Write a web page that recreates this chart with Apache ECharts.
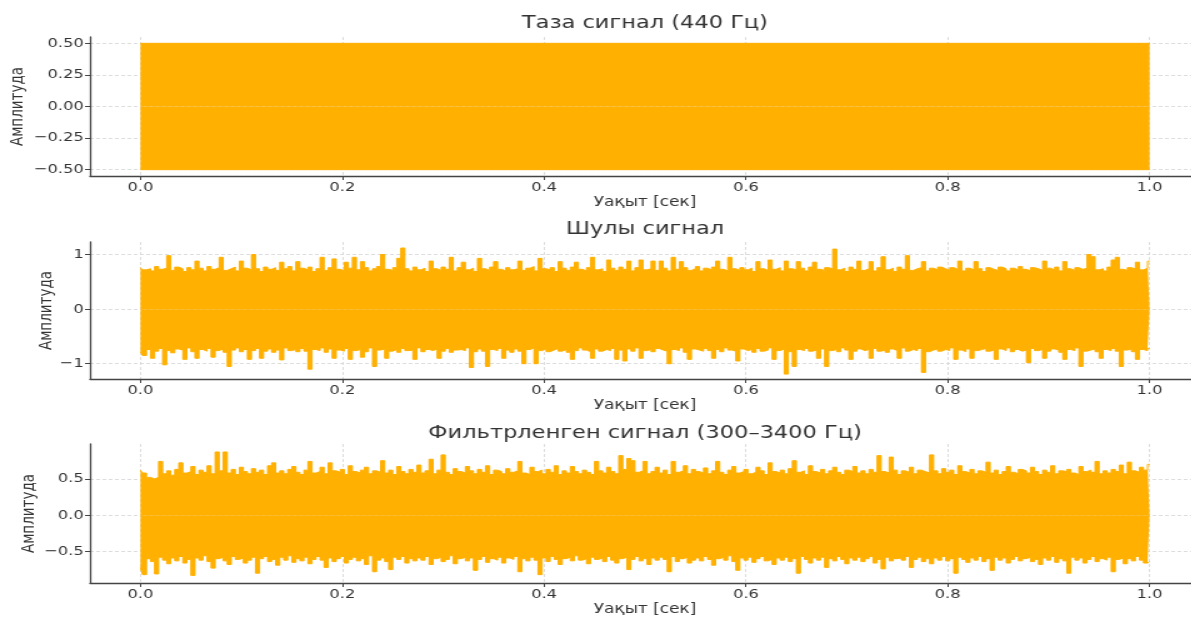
<!DOCTYPE html>
<html>
<head>
<meta charset="utf-8">
<script src="https://cdn.jsdelivr.net/npm/echarts@6/dist/echarts.min.js"></script>
<style>
  html, body { margin: 0; padding: 0; overflow: hidden; background: #fff; }
  /* исходный рисунок растянут по горизонтали примерно в 1.25 раза */
  #chart { width: 960px; height: 617px; transform: scaleX(1.25); transform-origin: 0 0; }
</style>
</head>
<body>
<div id="chart"></div>
<script>
// шаг отсчётов огибающей шумных сигналов, сек
const sampleStep = 0.004;

// подписи
const titles = ['Таза сигнал (440 Гц)', 'Шулы сигнал', 'Фильтрленген сигнал (300–3400 Гц)'];
const xName = 'Уақыт [сек]';
const yName = 'Амплитуда';
const xTicks = [0, 0.2, 0.4, 0.6, 0.8, 1.0];
const yTicks1 = [-0.5, -0.25, 0, 0.25, 0.5];
const yTicks2 = [-1, 0, 1];
const yTicks3 = [-0.5, 0, 0.5];

// таза сигнал: синусоида 440 Гц, огибающая ровная ±0.5 от 0 до 1 с
const cleanTimes = [0, 1.0];
const cleanHigh = [0.5, 0.5];
const cleanLow = [-0.5, -0.5];

// шулы сигнал: верхняя и нижняя огибающие
const noisyHigh = [
  0.76,0.72,0.74,0.70,0.78,0.73,0.75,0.98,0.71,0.77,
  0.74,0.69,0.76,0.72,0.88,0.75,0.70,0.78,0.73,0.76,
  0.95,0.71,0.74,0.77,0.70,0.88,0.75,0.72,1.00,0.74,
  0.69,0.77,0.73,0.76,0.71,0.86,0.74,0.78,0.70,0.87,
  0.75,0.72,0.77,0.69,0.74,0.95,0.71,0.76,0.92,0.73,
  0.70,0.86,0.75,0.95,0.72,0.87,0.76,0.70,0.74,0.78,
  1.00,0.73,0.71,0.76,0.93,1.12,0.74,0.70,0.77,0.72,
  0.75,0.69,0.88,0.74,0.71,0.77,0.73,0.95,0.70,0.76,
  0.86,0.72,0.75,0.69,0.93,0.74,0.71,0.77,0.87,0.73,
  0.70,0.76,0.72,0.74,0.88,0.71,0.75,0.78,0.70,0.93,
  0.74,0.72,0.76,0.69,0.87,0.75,0.71,0.77,0.86,0.73,
  0.70,0.76,0.95,0.72,0.74,0.69,0.90,0.75,0.71,0.77,
  0.73,0.88,0.70,0.76,0.90,0.72,0.74,0.88,0.71,0.88,
  0.75,0.70,0.95,0.73,0.87,0.76,0.71,0.74,0.78,0.70,
  0.75,0.72,0.77,0.88,0.73,0.70,0.95,0.74,0.71,0.76,
  0.72,0.75,0.69,0.87,0.74,0.71,0.90,0.73,0.76,0.70,
  0.88,0.74,0.72,0.87,0.75,0.70,0.77,0.86,0.73,0.71,
  0.76,0.74,1.10,0.72,0.75,0.69,0.77,0.73,0.88,0.71,
  0.74,0.87,0.70,0.76,0.96,0.72,0.75,0.69,0.77,0.73,
  0.98,0.71,0.74,0.76,0.87,0.70,0.75,0.72,0.77,0.74,
  0.71,0.76,0.73,0.88,0.70,0.75,0.72,0.87,0.74,0.69,
  0.76,0.73,0.71,0.77,0.74,0.70,0.75,0.72,0.78,0.73,
  0.70,0.76,0.74,0.71,0.88,0.75,0.72,0.77,0.70,0.87,
  0.74,0.71,0.76,0.73,0.75,1.00,0.96,0.72,0.74,0.70,
  0.77,0.90,0.95,0.73,0.71,0.76,0.74,0.86,0.72,0.75,
  0.88
];
const noisyLow = [
  -0.78,-0.85,-0.74,-0.90,-0.77,-0.72,-1.02,-0.76,-0.80,-0.73,
  -0.75,-0.92,-0.71,-0.78,-0.90,-0.74,-0.77,-0.72,-0.88,-0.76,
  -0.73,-0.79,-1.05,-0.75,-0.71,-0.78,-0.74,-0.92,-0.76,-0.72,
  -0.90,-0.77,-0.73,-0.79,-0.75,-0.93,-0.71,-0.76,-0.74,-0.78,
  -0.72,-0.77,-1.10,-0.74,-0.76,-0.71,-0.79,-0.73,-0.90,-0.75,
  -0.77,-0.72,-0.92,-0.76,-0.74,-0.88,-0.78,-0.71,-1.05,-0.75,
  -0.73,-0.90,-0.77,-0.74,-0.79,-0.72,-0.76,-0.75,-0.92,-0.71,
  -0.78,-0.74,-0.76,-0.73,-0.90,-0.77,-0.72,-0.79,-0.75,-0.74,
  -0.76,-0.71,-1.07,-0.78,-0.73,-0.77,-1.05,-0.74,-0.76,-0.72,
  -0.90,-0.75,-0.79,-0.73,-0.77,-1.00,-0.74,-0.71,-1.00,-0.76,
  -0.73,-0.78,-0.75,-0.72,-0.77,-0.74,-0.79,-0.92,-0.76,-0.71,
  -0.75,-0.78,-0.90,-0.73,-0.77,-0.74,-0.76,-0.72,-0.92,-0.75,
  -0.95,-0.73,-0.77,-0.71,-0.90,-0.76,-0.74,-0.78,-0.72,-0.75,
  -0.77,-1.00,-0.74,-0.76,-0.71,-0.79,-0.92,-0.73,-0.75,-0.77,
  -0.72,-0.76,-0.90,-0.74,-0.78,-0.71,-0.75,-0.77,-0.95,-0.73,
  -0.76,-0.74,-0.79,-0.72,-0.77,-0.75,-0.71,-0.92,-0.76,-0.73,
  -1.19,-0.78,-1.05,-0.74,-0.76,-0.72,-0.77,-0.75,-0.90,-0.73,
  -1.05,-0.76,-0.74,-0.78,-0.71,-0.75,-0.92,-0.77,-0.73,-0.76,
  -0.74,-0.90,-0.72,-0.77,-0.75,-0.79,-0.73,-0.76,-0.90,-0.71,
  -0.77,-0.74,-0.76,-0.72,-1.16,-0.78,-0.75,-0.73,-0.77,-0.74,
  -0.76,-0.71,-0.92,-0.75,-0.78,-0.73,-0.90,-0.76,-0.74,-0.72,
  -0.77,-0.75,-0.92,-0.73,-0.76,-0.71,-0.78,-0.74,-0.77,-0.75,
  -0.98,-0.72,-0.76,-0.74,-0.90,-0.77,-0.73,-0.75,-0.79,-0.92,
  -0.74,-0.76,-0.71,-1.05,-0.77,-0.75,-0.73,-0.78,-0.90,-0.74,
  -0.76,-0.72,-0.77,-1.05,-0.75,-0.73,-0.78,-0.92,-0.74,-0.76,
  -0.72
];

// фильтрленген сигнал: верхняя и нижняя огибающие
const filtHigh = [
  0.62,0.58,0.52,0.50,0.52,0.74,0.57,0.61,0.55,0.63,
  0.72,0.58,0.60,0.67,0.56,0.62,0.59,0.68,0.57,0.87,
  0.61,0.87,0.58,0.63,0.56,0.66,0.60,0.57,0.64,0.59,
  0.62,0.56,0.68,0.72,0.58,0.61,0.57,0.63,0.67,0.59,
  0.56,0.62,0.74,0.58,0.60,0.66,0.57,0.72,0.61,0.59,
  0.63,0.56,0.68,0.60,0.58,0.62,0.66,0.57,0.61,0.59,
  0.75,0.58,0.62,0.56,0.67,0.60,0.57,0.63,0.59,0.69,
  0.58,0.61,0.77,0.57,0.62,0.83,0.59,0.56,0.64,0.60,
  0.58,0.67,0.61,0.57,0.63,0.59,0.68,0.56,0.62,0.60,
  0.57,0.64,0.59,0.61,0.74,0.58,0.56,0.66,0.60,0.62,
  0.57,0.63,0.59,0.68,0.56,0.61,0.58,0.67,0.60,0.57,
  0.62,0.59,0.56,0.74,0.61,0.58,0.66,0.60,0.57,0.82,
  0.63,0.78,0.75,0.59,0.61,0.74,0.57,0.60,0.66,0.58,
  0.62,0.56,0.74,0.59,0.61,0.68,0.57,0.63,0.60,0.58,
  0.65,0.57,0.61,0.74,0.59,0.56,0.62,0.67,0.58,0.60,
  0.63,0.57,0.59,0.66,0.61,0.56,0.72,0.60,0.58,0.62,
  0.57,0.64,0.75,0.59,0.61,0.56,0.68,0.60,0.58,0.63,
  0.57,0.61,0.66,0.59,0.56,0.62,0.60,0.67,0.58,0.61,
  0.57,0.63,0.59,0.82,0.60,0.58,0.80,0.62,0.56,0.61,
  0.59,0.66,0.57,0.62,0.60,0.58,0.83,0.61,0.57,0.64,
  0.59,0.62,0.56,0.68,0.60,0.58,0.63,0.57,0.61,0.59,
  0.73,0.58,0.62,0.56,0.60,0.67,0.59,0.57,0.63,0.61,
  0.58,0.66,0.60,0.56,0.62,0.59,0.68,0.57,0.61,0.60,
  0.63,0.58,0.56,0.67,0.60,0.62,0.59,0.74,0.57,0.61,
  0.58,0.63,0.60,0.69,0.57,0.73,0.61,0.59,0.66,0.62,
  0.70
];
const filtLow = [
  -0.72,-0.82,-0.60,-0.64,-0.81,-0.58,-0.62,-0.67,-0.59,-0.63,
  -0.57,-0.66,-0.61,-0.83,-0.59,-0.62,-0.56,-0.64,-0.73,-0.60,
  -0.58,-0.63,-0.68,-0.57,-0.61,-0.59,-0.66,-0.62,-0.58,-0.80,
  -0.60,-0.57,-0.64,-0.61,-0.69,-0.58,-0.62,-0.56,-0.65,-0.60,
  -0.63,-0.58,-0.67,-0.61,-0.57,-0.62,-0.72,-0.59,-0.64,-0.60,
  -0.57,-0.66,-0.61,-0.58,-0.63,-0.60,-0.68,-0.56,-0.78,-0.62,
  -0.59,-0.64,-0.75,-0.58,-0.61,-0.57,-0.66,-0.60,-0.63,-0.59,
  -0.62,-0.57,-0.68,-0.60,-0.58,-0.64,-0.61,-0.56,-0.67,-0.60,
  -0.58,-0.63,-0.59,-0.76,-0.61,-0.57,-0.65,-0.60,-0.62,-0.58,
  -0.66,-0.59,-0.61,-0.57,-0.78,-0.60,-0.63,-0.58,-0.62,-0.82,
  -0.59,-0.64,-0.57,-0.61,-0.68,-0.60,-0.58,-0.63,-0.56,-0.62,
  -0.60,-0.67,-0.58,-0.61,-0.59,-0.64,-0.57,-0.62,-0.66,-0.60,
  -0.58,-0.75,-0.61,-0.57,-0.63,-0.60,-0.68,-0.59,-0.62,-0.58,
  -0.61,-0.78,-0.57,-0.64,-0.60,-0.58,-0.66,-0.62,-0.59,-0.63,
  -0.57,-0.61,-0.69,-0.60,-0.58,-0.62,-0.56,-0.64,-0.76,-0.59,
  -0.62,-0.58,-0.65,-0.60,-0.57,-0.63,-0.61,-0.68,-0.59,-0.62,
  -0.58,-0.64,-0.60,-0.80,-0.57,-0.61,-0.66,-0.59,-0.62,-0.58,
  -0.72,-0.60,-0.63,-0.57,-0.61,-0.67,-0.59,-0.62,-0.58,-0.64,
  -0.60,-0.57,-0.66,-0.61,-0.74,-0.58,-0.63,-0.60,-0.59,-0.62,
  -0.57,-0.72,-0.61,-0.58,-0.64,-0.60,-0.67,-0.59,-0.62,-0.57,
  -0.63,-0.60,-0.80,-0.58,-0.61,-0.65,-0.59,-0.62,-0.57,-0.64,
  -0.60,-0.76,-0.58,-0.62,-0.59,-0.66,-0.61,-0.57,-0.63,-0.60,
  -0.58,-0.64,-0.61,-0.68,-0.59,-0.62,-0.57,-0.65,-0.60,-0.63,
  -0.80,-0.58,-0.62,-0.59,-0.66,-0.61,-0.57,-0.64,-0.60,-0.62,
  -0.58,-0.78,-0.61,-0.59,-0.67,-0.60,-0.63,-0.57,-0.62,-0.66,
  -0.64
];

// равномерная сетка времени для шумных огибающих
const noiseTimes = noisyHigh.map(function (v, i) { return i * sampleStep; });

function pairs(times, vals) {
  return vals.map(function (v, i) { return [times[i], v]; });
}

function minus(s) { return s.replace('-', '\u2212'); }

var font = 'DejaVu Sans';
var ink = '#333';
var axisColor = '#444';
var orange = '#ffb000';
var gridLine = { show: true, lineStyle: { type: [3, 2], color: '#d4d4d4', width: 0.8 } };

function xAxis(idx) {
  return {
    gridIndex: idx, type: 'value', min: -0.05, max: 1.05,
    name: xName, nameLocation: 'middle', nameGap: 19, nameMoveOverlap: false,
    nameTextStyle: { fontFamily: font, fontSize: 13.5, color: ink },
    axisLine: { show: true, onZero: false, lineStyle: { color: axisColor, width: 1.3 } },
    axisTick: { show: true, length: 4, customValues: xTicks, lineStyle: { color: axisColor } },
    axisLabel: { customValues: xTicks, margin: 5, fontFamily: font, fontSize: 13, color: ink,
      formatter: function (v) { return v.toFixed(1); } },
    splitLine: gridLine
  };
}

function yAxis(idx, min, max, ticks, digits, gap) {
  return {
    gridIndex: idx, type: 'value', min: min, max: max,
    name: yName, nameLocation: 'middle', nameGap: gap, nameMoveOverlap: false,
    nameTextStyle: { fontFamily: font, fontSize: 13.5, color: ink },
    axisLine: { show: true, onZero: false, lineStyle: { color: axisColor, width: 1.3 } },
    axisTick: { show: true, length: 4, customValues: ticks, lineStyle: { color: axisColor } },
    axisLabel: { customValues: ticks, margin: 5, fontFamily: font, fontSize: 13, color: ink,
      formatter: function (v) { return minus(v.toFixed(digits)); } },
    splitLine: gridLine
  };
}

// огибающая, залитая до нуля ступеньками
function band(idx, times, vals) {
  return {
    type: 'line', xAxisIndex: idx, yAxisIndex: idx, data: pairs(times, vals),
    step: 'middle', symbol: 'none', showSymbol: false, sampling: null,
    lineStyle: { color: orange, width: 1 },
    areaStyle: { color: orange, opacity: 1 }
  };
}

function titleAt(text, top) {
  return { text: text, left: 516, top: top, padding: 0, textAlign: 'center',
    textStyle: { fontFamily: font, fontSize: 18, fontWeight: 'normal', color: ink } };
}

var chart = echarts.init(document.getElementById('chart'), null, { renderer: 'canvas' });
chart.setOption({
  animation: false,
  backgroundColor: '#fff',
  title: [titleAt(titles[0], 14), titleAt(titles[1], 220), titleAt(titles[2], 424)],
  grid: [
    { left: 72, right: 0, top: 37, height: 139, outerBoundsMode: 'none' },
    { left: 72, right: 0, top: 242, height: 137, outerBoundsMode: 'none' },
    { left: 72, right: 0, top: 444, height: 139, outerBoundsMode: 'none' }
  ],
  xAxis: [xAxis(0), xAxis(1), xAxis(2)],
  yAxis: [
    yAxis(0, -0.55, 0.55, yTicks1, 2, 51),
    yAxis(1, -1.28, 1.23, yTicks2, 0, 28),
    yAxis(2, -0.935, 0.98, yTicks3, 1, 42)
  ],
  series: [
    band(0, cleanTimes, cleanHigh), band(0, cleanTimes, cleanLow),
    band(1, noiseTimes, noisyHigh), band(1, noiseTimes, noisyLow),
    band(2, noiseTimes, filtHigh), band(2, noiseTimes, filtLow)
  ]
});
</script>
</body>
</html>
